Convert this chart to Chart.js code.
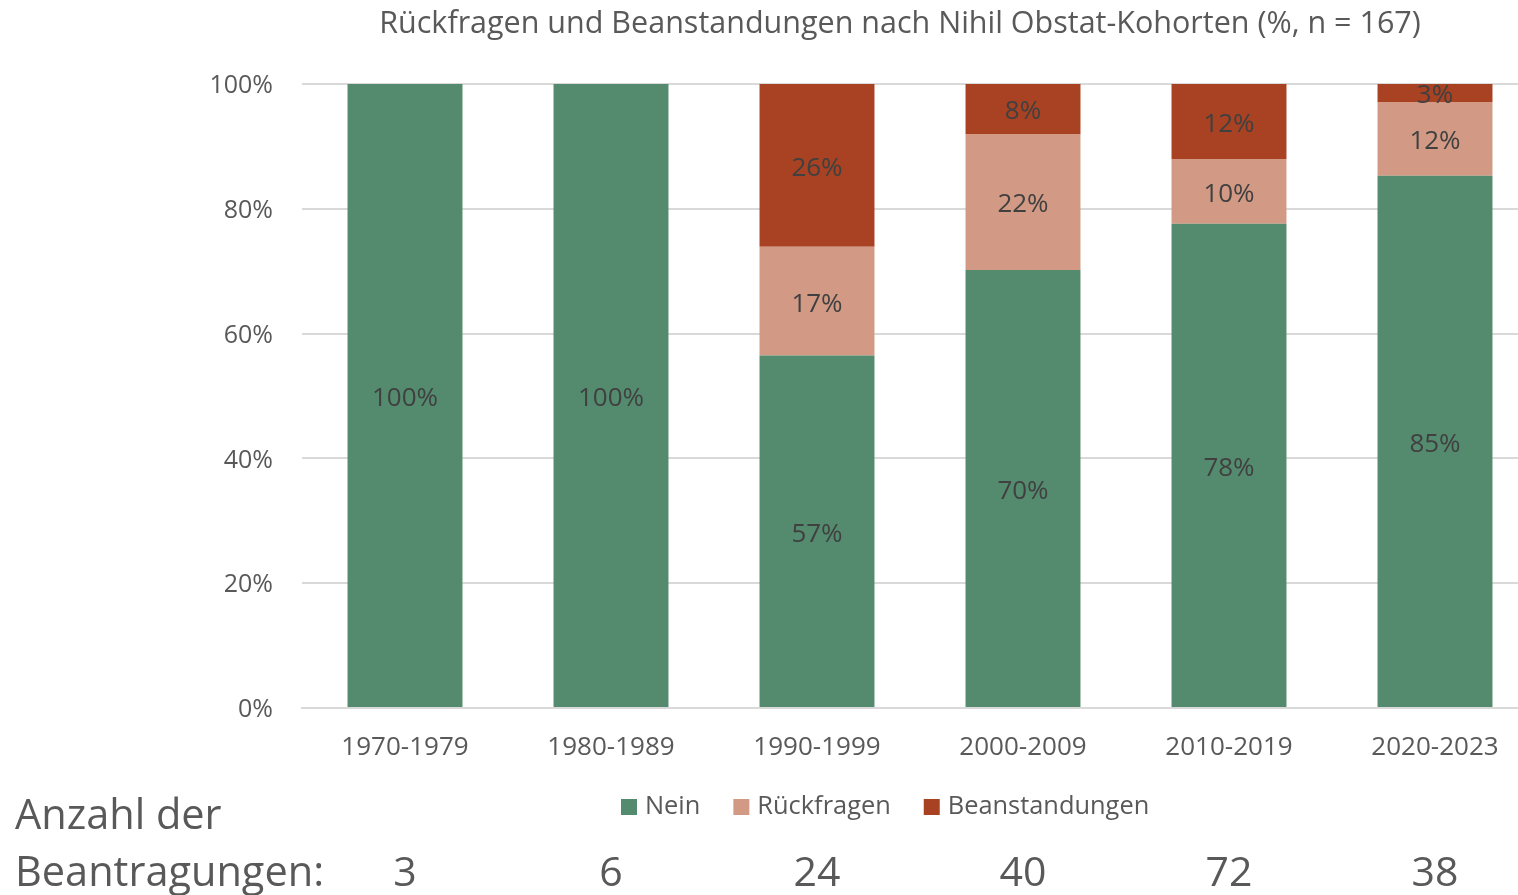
<!DOCTYPE html>
<html>
<head>
<meta charset="utf-8">
<script src="https://cdn.jsdelivr.net/npm/chart.js@4/dist/chart.umd.min.js"></script>
<style>
  html, body { margin: 0; padding: 0; background: #fff; overflow: hidden; }
  #wrap { width: 1540px; height: 895px; }
</style>
</head>
<body>
<div id="wrap"><canvas id="c" width="1540" height="895"></canvas></div>
<script>
const categories = ['1970-1979', '1980-1989', '1990-1999', '2000-2009', '2010-2019', '2020-2023'];
const nein = [100, 100, 56.5, 70.2, 77.6, 85.3];
const rueckfragen = [0, 0, 17.4, 21.8, 10.4, 11.8];
const beanstandungen = [0, 0, 26.1, 8.0, 12.0, 2.9];
const anzahl = [3, 6, 24, 40, 72, 38];
const yTicks = [0, 20, 40, 60, 80, 100];
const titleText = 'Rückfragen und Beanstandungen nach Nihil Obstat-Kohorten (%, n = 167)';
const seriesNames = ['Nein', 'Rückfragen', 'Beanstandungen'];
const seriesColors = ['#548B6E', '#D29A85', '#A84223'];

const FONT = '"Open Sans", "Noto Sans", sans-serif';
const TEXT = '#595959';

const overlay = {
  id: 'overlay',
  afterDatasetsDraw(chart) {
    const ctx = chart.ctx;
    const area = chart.chartArea;
    ctx.save();
    ctx.beginPath();
    ctx.rect(area.left, area.top, area.right - area.left, area.bottom - area.top);
    ctx.clip();
    ctx.font = '26px ' + FONT;
    ctx.fillStyle = '#404040';
    ctx.textAlign = 'center';
    ctx.textBaseline = 'middle';
    chart.data.datasets.forEach((ds, di) => {
      const meta = chart.getDatasetMeta(di);
      meta.data.forEach((el, i) => {
        const v = ds.data[i];
        if (!v) return;
        const yc = (el.y + el.base) / 2 + 3;
        ctx.fillText(Math.round(v) + '%', el.x, yc);
      });
    });
    ctx.restore();
  },
  afterDraw(chart) {
    const ctx = chart.ctx;
    const xs = chart.scales.x;
    ctx.save();
    ctx.fillStyle = TEXT;
    ctx.textBaseline = 'middle';
    // title
    ctx.font = '30.5px ' + FONT;
    ctx.textAlign = 'center';
    ctx.fillText(titleText, 900, 24);
    // legend
    ctx.font = '25.4px ' + FONT;
    ctx.textAlign = 'left';
    let lx = 621;
    const ly = 807;
    seriesNames.forEach((name, i) => {
      ctx.fillStyle = seriesColors[i];
      ctx.fillRect(lx, ly - 8, 16, 16);
      ctx.fillStyle = TEXT;
      ctx.fillText(name, lx + 24, ly);
      lx += 24 + ctx.measureText(name).width + 33;
    });
    // bottom counts row
    ctx.font = '41.5px ' + FONT;
    ctx.textAlign = 'left';
    ctx.fillText('Anzahl der', 15, 817);
    ctx.fillText('Beantragungen:', 15, 874);
    ctx.font = '41px ' + FONT;
    ctx.textAlign = 'center';
    anzahl.forEach((n, i) => {
      ctx.fillText(String(n), xs.getPixelForValue(i), 874);
    });
    ctx.restore();
  }
};

new Chart(document.getElementById('c'), {
  type: 'bar',
  data: {
    labels: categories,
    datasets: [
      { label: seriesNames[0], data: nein, backgroundColor: seriesColors[0] },
      { label: seriesNames[1], data: rueckfragen, backgroundColor: seriesColors[1] },
      { label: seriesNames[2], data: beanstandungen, backgroundColor: seriesColors[2] }
    ]
  },
  options: {
    responsive: false,
    animation: false,
    devicePixelRatio: 1,
    layout: { padding: { top: 84, right: 2, left: 0, bottom: 0 } },
    datasets: { bar: { categoryPercentage: 1, barPercentage: 0.558, borderWidth: 0 } },
    plugins: { legend: { display: false }, title: { display: false }, tooltip: { enabled: false } },
    scales: {
      x: {
        stacked: true,
        grid: { display: false, drawTicks: false },
        border: { display: true, color: '#d9d9d9', width: 2 },
        ticks: { color: TEXT, font: { family: FONT, size: 26 }, padding: 24, maxRotation: 0 },
        afterFit(s) { s.height = 187; }
      },
      y: {
        stacked: true,
        min: 0,
        max: 100,
        afterBuildTicks(s) { s.ticks = yTicks.map(v => ({ value: v })); },
        grid: { color: '#d9d9d9', lineWidth: 2, drawTicks: false },
        border: { display: false },
        ticks: { color: TEXT, font: { family: FONT, size: 25 }, padding: 29, labelOffset: 2, callback: v => v + '%' },
        afterFit(s) { s.width = 302; }
      }
    }
  },
  plugins: [overlay]
});
</script>
</body>
</html>
